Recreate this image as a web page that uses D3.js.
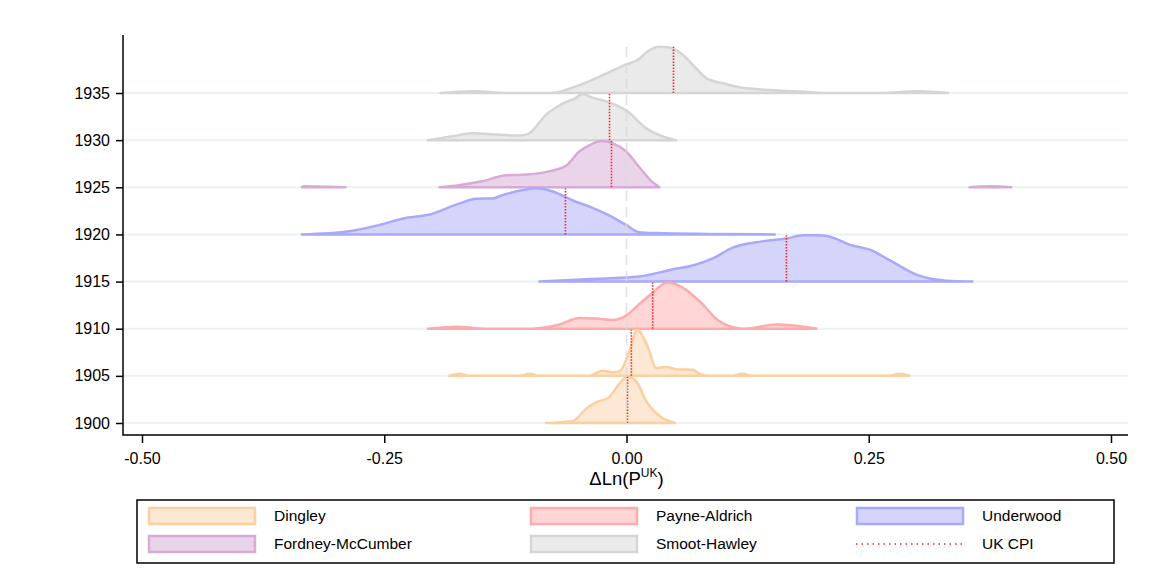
<!DOCTYPE html>
<html>
<head>
<meta charset="utf-8">
<script src="https://cdn.jsdelivr.net/npm/d3@7"></script>
<style>
  body { margin: 0; background: #fff; }
  svg text { font-family: "Liberation Sans", Arial, sans-serif; fill: #000; }
</style>
</head>
<body>
<div id="chart"></div>
<script>
// Ridgeline of price changes by tariff act, with UK CPI marks

// Rows of the ridgeline (bottom to top)
const years = [1900, 1905, 1910, 1915, 1920, 1925, 1930, 1935];
const acts = ["Dingley", "Dingley", "Payne-Aldrich", "Underwood", "Underwood",
    "Fordney-McCumber", "Smoot-Hawley", "Smoot-Hawley"];

// UK CPI change for each row
const ukCpi = [0.001, 0.005, 0.027, 0.165, -0.063, -0.0155, -0.0175, 0.0485];

// Density outlines: [dLn(P), relative height], null = gap
const dens1900 = [[-0.083, 0], [-0.056, 0.04], [-0.041, 0.32], [-0.031, 0.45], [-0.018, 0.56],
    [-0.007, 0.86], [0.001, 1.0], [0.010, 0.90], [0.021, 0.45], [0.034, 0.15], [0.050, 0]];
const dens1905 = [[-0.183, 0], [-0.172, 0.045], [-0.162, 0], [-0.110, 0], [-0.100, 0.045],
    [-0.090, 0], [-0.038, 0], [-0.025, 0.11], [-0.014, 0.08], [-0.007, 0.10], [0.003, 0.53],
    [0.011, 1.0], [0.021, 0.68], [0.031, 0.17], [0.041, 0.19], [0.052, 0.14], [0.068, 0.13],
    [0.075, 0.05], [0.086, 0], [0.109, 0], [0.120, 0.045], [0.130, 0], [0.271, 0],
    [0.282, 0.045], [0.292, 0]];
const dens1910 = [[-0.205, 0], [-0.175, 0.045], [-0.145, 0], [-0.097, 0], [-0.069, 0.09],
    [-0.049, 0.23], [-0.031, 0.22], [-0.014, 0.19], [0.0, 0.29], [0.013, 0.53], [0.027, 0.78],
    [0.042, 1.0], [0.058, 0.89], [0.075, 0.60], [0.096, 0.16], [0.114, 0.015], [0.120, 0],
    [0.155, 0.09], [0.196, 0]];
const dens1915 = [[-0.090, 0], [-0.031, 0.06], [0.013, 0.11], [0.047, 0.26], [0.072, 0.37],
    [0.089, 0.50], [0.109, 0.73], [0.140, 0.87], [0.165, 0.93], [0.182, 1.0], [0.199, 1.0],
    [0.213, 0.95], [0.230, 0.80], [0.251, 0.69], [0.271, 0.47], [0.299, 0.15], [0.330, 0.02],
    [0.357, 0]];
const dens1920 = [[-0.335, 0], [-0.286, 0.07], [-0.258, 0.19], [-0.227, 0.36], [-0.203, 0.43],
    [-0.175, 0.65], [-0.155, 0.77], [-0.138, 0.78], [-0.128, 0.85], [-0.107, 0.96],
    [-0.093, 1.0], [-0.076, 0.93], [-0.056, 0.74], [-0.038, 0.60], [-0.018, 0.41],
    [0.0, 0.20], [0.013, 0.05], [0.031, 0.03], [0.086, 0.01], [0.153, 0]];
const dens1925 = [[-0.335, 0], [-0.333, 0.025], [-0.31, 0.01], [-0.29, 0], null,
    [-0.193, 0], [-0.175, 0.04], [-0.149, 0.13], [-0.124, 0.26], [-0.107, 0.27], [-0.079, 0.35],
    [-0.062, 0.47], [-0.049, 0.77], [-0.038, 0.91], [-0.026, 1.0], [-0.014, 0.95], [0.0, 0.77],
    [0.013, 0.44], [0.027, 0.11], [0.034, 0], null,
    [0.354, 0], [0.375, 0.02], [0.397, 0]];
const dens1930 = [[-0.205, 0], [-0.178, 0.09], [-0.160, 0.15], [-0.140, 0.13], [-0.112, 0.10],
    [-0.102, 0.13], [-0.083, 0.55], [-0.062, 0.83], [-0.055, 0.88], [-0.045, 1.0],
    [-0.035, 0.92], [-0.021, 0.84], [0.0, 0.64], [0.020, 0.26], [0.036, 0.09], [0.051, 0]];
const dens1935 = [[-0.192, 0], [-0.157, 0.04], [-0.125, 0], [-0.078, 0], [-0.050, 0.16],
    [-0.021, 0.42], [0.001, 0.63], [0.011, 0.71], [0.022, 0.90], [0.033, 1.0], [0.043, 0.99],
    [0.058, 0.83], [0.072, 0.53], [0.083, 0.31], [0.100, 0.21], [0.115, 0.13], [0.143, 0.07],
    [0.180, 0.03], [0.204, 0], [0.265, 0], [0.300, 0.04], [0.332, 0]];
const densities = [dens1900, dens1905, dens1910, dens1915, dens1920, dens1925, dens1930, dens1935];

// Axis ticks
const xTicks = [-0.5, -0.25, 0, 0.25, 0.5];
const xTickLabels = ["-0.50", "-0.25", "0.00", "0.25", "0.50"];

// Legend entries
const legendNames = ["Dingley", "Payne-Aldrich", "Underwood", "Fordney-McCumber", "Smoot-Hawley", "UK CPI"];

// Colours per act
const fills = {
    "Dingley": "#fde8d3",
    "Payne-Aldrich": "#ffd5d6",
    "Underwood": "#d5d5fb",
    "Fordney-McCumber": "#e9d4e9",
    "Smoot-Hawley": "#eaeaea"
};
const strokes = {
    "Dingley": "#fbcf9f",
    "Payne-Aldrich": "#ffabab",
    "Underwood": "#a9a9fa",
    "Fordney-McCumber": "#d8aad8",
    "Smoot-Hawley": "#d5d5d5"
};

const width = 1156, height = 571;
const svg = d3.select("#chart").append("svg")
    .attr("width", width)
    .attr("height", height);

// Scales
let x = d3.scaleLinear().domain([-0.5, 0.5]).range([142, 1111]);
let y = d3.scaleLinear().domain([1900, 1935]).range([423, 93]);
const ridgeYears = 4.9;   // peak height in year units
const axisLeftX = 123, axisRightX = 1128, axisTopY = 35, axisBottomY = 435;

// Gridlines
svg.append("g").selectAll("line")
    .data(years)
    .join("line")
    .attr("x1", axisLeftX).attr("x2", axisRightX)
    .attr("y1", d => y(d)).attr("y2", d => y(d))
    .attr("stroke", "#eaf2f3")
    .attr("stroke-width", 2);

// Ridges, top row first so lower rows sit on top
let area = d3.area()
    .defined(d => d !== null)
    .x(d => x(d[0]))
    .curve(d3.curveMonotoneX);

const order = d3.range(years.length).reverse();
order.forEach(i => {
    const yr = years[i];
    const act = acts[i];
    area.y0(y(yr)).y1(d => y(yr + d[1] * ridgeYears));
    svg.append("path")
        .datum(densities[i])
        .attr("d", area)
        .attr("fill", fills[act])
        .attr("stroke", strokes[act])
        .attr("stroke-width", 2.5)
        .attr("stroke-linejoin", "round");
    svg.append("line")
        .attr("x1", x(ukCpi[i])).attr("x2", x(ukCpi[i]))
        .attr("y1", y(yr)).attr("y2", y(yr + ridgeYears))
        .attr("stroke", "#ff2020")
        .attr("stroke-width", 1.6)
        .attr("stroke-dasharray", "1.5,1.5");
});

// Zero line
svg.append("line")
    .attr("x1", x(0)).attr("x2", x(0))
    .attr("y1", 47).attr("y2", y(1900))
    .attr("stroke", "#d9d9d9")
    .attr("stroke-opacity", 0.8)
    .attr("stroke-width", 1.6)
    .attr("stroke-dasharray", "10,6");

// Y axis
let yaxis = svg.append("g")
    .attr("transform", `translate(${axisLeftX},0)`)
    .call(d3.axisLeft(y).tickValues(years).tickFormat(d3.format("d"))
        .tickSize(7).tickPadding(6));
yaxis.select(".domain").remove();
yaxis.selectAll(".tick line").attr("stroke", "#000").attr("stroke-width", 1.5);
yaxis.selectAll(".tick text").style("font-size", "16px")
    .style("font-family", "'Liberation Sans', Arial, sans-serif");

// X axis
let xaxis = svg.append("g")
    .attr("transform", `translate(0,${axisBottomY})`)
    .call(d3.axisBottom(x).tickValues(xTicks).tickFormat((d, i) => xTickLabels[i])
        .tickSize(8).tickPadding(10));
xaxis.select(".domain").remove();
xaxis.selectAll(".tick line").attr("stroke", "#000").attr("stroke-width", 1.5);
xaxis.selectAll(".tick text").style("font-size", "16px")
    .style("font-family", "'Liberation Sans', Arial, sans-serif");

// Axis lines
svg.append("path")
    .attr("d", `M${axisLeftX},${axisTopY}V${axisBottomY}H${axisRightX}`)
    .attr("fill", "none")
    .attr("stroke", "#000")
    .attr("stroke-width", 1.5);

// X axis title
let title = svg.append("text")
    .attr("x", x(0))
    .attr("y", 485)
    .attr("text-anchor", "middle")
    .style("font-size", "18.5px");
title.append("tspan").text("ΔLn(P");
title.append("tspan").attr("dy", -8).style("font-size", "12px").text("UK");
title.append("tspan").attr("dy", 8).text(")");

// Legend
const legend = svg.append("g");
legend.append("rect")
    .attr("x", 137).attr("y", 500)
    .attr("width", 977).attr("height", 63)
    .attr("fill", "#fff")
    .attr("stroke", "#000")
    .attr("stroke-width", 1.5);

const colX = [148, 530, 856];
const rowY = [516, 544];
legendNames.forEach((name, i) => {
    const cx = colX[i % 3], cy = rowY[Math.floor(i / 3)];
    const g = legend.append("g");
    if (name === "UK CPI") {
        g.append("line")
            .attr("x1", cx).attr("x2", cx + 107)
            .attr("y1", cy).attr("y2", cy)
            .attr("stroke", "#ff2020")
            .attr("stroke-width", 1.6)
            .attr("stroke-dasharray", "1.5,4");
    } else {
        g.append("rect")
            .attr("x", cx + 1).attr("y", cy - 8)
            .attr("width", 106).attr("height", 16)
            .attr("fill", fills[name])
            .attr("stroke", strokes[name])
            .attr("stroke-width", 2.5);
    }
    g.append("text")
        .attr("x", cx + 126)
        .attr("y", cy + 5)
        .style("font-size", "15.5px")
        .text(name);
});
</script>
</body>
</html>
